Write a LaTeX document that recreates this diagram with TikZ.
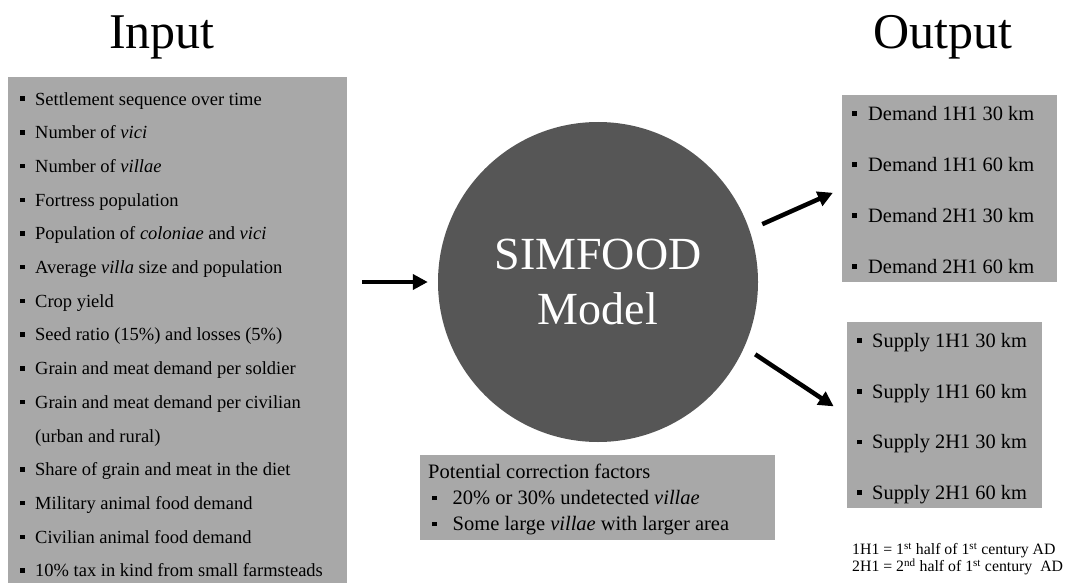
\documentclass[tikz,border=0pt]{standalone}
\usepackage{fontspec}
\setmainfont{Liberation Serif}
\usetikzlibrary{positioning, arrows.meta, calc}
\tikzset{>=latex}
\definecolor{boxgray}{RGB}{168,168,168}
\definecolor{modelgray}{RGB}{86,86,86}
\newcommand{\sqb}[1][10.5pt]{\rule[0.22em]{4.5pt}{4.5pt}\hspace{#1}}
\begin{document}
\begin{tikzpicture}[x=1pt, y=-1pt,
    panel/.style={fill=boxgray, inner sep=0pt, anchor=north west},
    listtext/.style={align=left, inner sep=0pt, anchor=north west},
    title/.style={font=\fontsize{50}{60}\selectfont, anchor=base},
    bigarrow/.style={line width=4.5pt, -{Triangle[length=15pt,width=15pt]}}]
    \useasboundingbox (0,0) rectangle (1067,583);
    \node[title] (inTitle) at (162,49) {Input};
    \node[title] (outTitle) at (943,49) {Output};
    \node[panel, minimum width=339pt, minimum height=506pt] (inBox) at (8,77) {};
    \node[panel, minimum width=215pt, minimum height=187pt] (demBox) at (842,95) {};
    \node[panel, minimum width=195pt, minimum height=186pt] (supBox) at (847,322) {};
    \node[panel, minimum width=355pt, minimum height=85pt] (corBox) at (420,455) {};
    \node[circle, fill=modelgray, minimum size=320pt, inner sep=0pt, text=white, align=center,
          font=\fontsize{46}{55}\selectfont] (model) at (598,282) {SIMFOOD\\Model};
    % list of inputs
    \node[listtext, font=\fontsize{18.5}{33.7}\selectfont] (inList) at (20,92) {%
        \sqb Settlement sequence over time\\
        \sqb Number of \textit{vici}\\
        \sqb Number of \textit{villae}\\
        \sqb Fortress population\\
        \sqb Population of \textit{coloniae} and \textit{vici}\\
        \sqb Average \textit{villa} size and population\\
        \sqb Crop yield\\
        \sqb Seed ratio (15\%) and losses (5\%)\\
        \sqb Grain and meat demand per soldier\\
        \sqb Grain and meat demand per civilian\\
        \hspace*{15pt}(urban and rural)\\
        \sqb Share of grain and meat in the diet\\
        \sqb Military animal food demand\\
        \sqb Civilian animal food demand\\
        \sqb 10\% tax in kind from small farmsteads};
    \node[listtext, font=\fontsize{20.4}{51}\selectfont] (demList) at (852,106) {%
        \sqb[11.5pt]Demand 1H1 30 km\\
        \sqb[11.5pt]Demand 1H1 60 km\\
        \sqb[11.5pt]Demand 2H1 30 km\\
        \sqb[11.5pt]Demand 2H1 60 km};
    \node[listtext, font=\fontsize{20.4}{50.7}\selectfont] (supList) at (857,333) {%
        \sqb[10.5pt]Supply 1H1 30 km\\
        \sqb[10.5pt]Supply 1H1 60 km\\
        \sqb[10.5pt]Supply 2H1 30 km\\
        \sqb[10.5pt]Supply 2H1 60 km};
    \node[listtext, font=\fontsize{20.5}{26}\selectfont] (corList) at (428,464) {%
        Potential correction factors\\
        \hspace*{4pt}\sqb[16pt]20\% or 30\% undetected \textit{villae}\\
        \hspace*{4pt}\sqb[16pt]Some large \textit{villae} with larger area};
    \node[listtext, font=\fontsize{15.8}{17}\selectfont] (note) at (852,543) {%
        1H1 = 1\textsuperscript{st} half of 1\textsuperscript{st} century AD\\
        2H1 = 2\textsuperscript{nd} half of 1\textsuperscript{st} century\ \ AD};
    % arrows
    \draw[bigarrow, shorten <=15pt, shorten >=10pt] (inBox.east |- model.west) -- (model.west);
    \draw[bigarrow, shorten <=14pt, shorten >=10pt] (model.19) -- (demBox.west);
    \draw[bigarrow, shorten <=13pt, shorten >=16pt] (model.-24) -- (supBox.west);
\end{tikzpicture}
\end{document}
